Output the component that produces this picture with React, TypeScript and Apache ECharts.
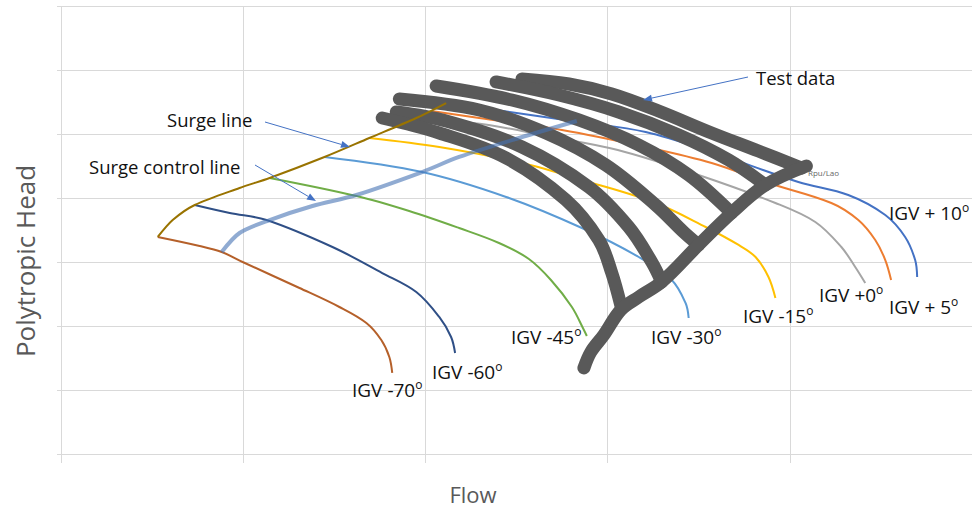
import React, { useEffect, useRef } from "react";
import * as echarts from "echarts";

// ---- data (Flow, Polytropic Head) in axis units ----
const xRange = [0, 5];
const yRange = [0, 7];

const surgeLine = [[0.531,3.391],[0.613,3.656],[0.734,3.891],[0.98,4.156],[1.145,4.313],[1.446,4.641],[1.692,4.938],[1.95,5.25],[2.114,5.484]];
const surgeControlLine = [[0.882,3.156],[0.98,3.453],[1.145,3.656],[1.38,3.875],[1.621,4.047],[1.982,4.406],[2.185,4.641],[2.514,4.938],[2.831,5.203]];

const igvM70 = [[0.531,3.391],[0.761,3.25],[0.882,3.156],[0.997,3.0],[1.309,2.594],[1.528,2.297],[1.676,2.047],[1.758,1.781],[1.802,1.516],[1.818,1.266]];
const igvM60 = [[0.734,3.891],[0.926,3.766],[1.128,3.656],[1.49,3.234],[1.763,2.828],[1.95,2.531],[2.076,2.141],[2.141,1.828],[2.163,1.578]];
const igvM45 = [[1.145,4.313],[1.621,4.031],[1.911,3.797],[2.185,3.531],[2.404,3.297],[2.568,3.047],[2.689,2.719],[2.804,2.297],[2.87,1.938],[2.886,1.844]];
const igvM30 = [[1.446,4.641],[1.982,4.406],[2.443,4.016],[2.859,3.531],[3.171,3.078],[3.352,2.719],[3.428,2.359],[3.445,2.125]];
const igvM15 = [[1.692,4.938],[2.076,4.797],[2.53,4.547],[2.897,4.25],[3.264,3.922],[3.538,3.547],[3.719,3.266],[3.812,3.078],[3.883,2.766],[3.921,2.438]];
const igv0 = [[1.911,5.203],[2.256,5.172],[2.694,4.953],[3.056,4.75],[3.499,4.359],[3.921,3.922],[4.14,3.625],[4.283,3.234],[4.359,2.922],[4.414,2.672]];
const igvP5 = [[2.032,5.359],[2.295,5.25],[2.749,5.063],[3.209,4.797],[3.571,4.547],[3.883,4.234],[4.228,3.922],[4.376,3.656],[4.469,3.344],[4.524,3.031],[4.556,2.719]];
const igvP10 = [[2.114,5.484],[2.388,5.375],[2.842,5.188],[3.209,5.031],[3.571,4.719],[4.047,4.25],[4.321,4.047],[4.524,3.734],[4.633,3.391],[4.688,3.031],[4.699,2.766]];

const testA = [[2.53,5.859],[2.788,5.781],[3.023,5.625],[3.28,5.359],[3.571,5.016],[3.828,4.734],[4.064,4.469]];
const testB = [[2.388,5.813],[2.733,5.609],[3.061,5.344],[3.39,4.984],[3.664,4.594],[3.866,4.203]];
const testC = [[2.059,5.75],[2.475,5.531],[2.842,5.219],[3.171,4.828],[3.445,4.359],[3.68,3.766]];
const testD = [[1.857,5.547],[2.295,5.375],[2.662,5.016],[2.99,4.516],[3.264,3.891],[3.417,3.469],[3.499,3.266]];
const testE = [[1.84,5.344],[2.114,5.203],[2.53,4.797],[2.897,4.172],[3.116,3.547],[3.242,3.0],[3.297,2.688]];
const testF = [[1.763,5.25],[2.076,5.016],[2.443,4.625],[2.771,3.969],[2.952,3.344],[3.023,2.828],[3.072,2.328]];
const testChoke = [[4.091,4.5],[3.866,4.203],[3.68,3.766],[3.499,3.266],[3.297,2.688],[3.171,2.453],[3.072,2.25],[2.979,1.859],[2.908,1.594],[2.87,1.344]];

const curveNames = ["IGV -70", "IGV -60", "IGV -45", "IGV -30", "IGV -15", "IGV +0", "IGV + 5", "IGV + 10"];
const curveData = [igvM70, igvM60, igvM45, igvM30, igvM15, igv0, igvP5, igvP10];
const curveColors = ["#b5602a", "#2f4f86", "#70ad47", "#5b9bd5", "#ffc000", "#a5a5a5", "#ed7d31", "#4472c4"];
const testBands = [testA, testB, testC, testD, testE, testF, testChoke];

const FONT = "'Open Sans', 'Noto Sans', sans-serif";

function igvLabel(name: string, x: number, y: number) {
  return {
    type: "text",
    x,
    y,
    z: 50,
    style: {
      text: `{m|${name}}{s|o}`,
      align: "left",
      verticalAlign: "middle",
      rich: {
        m: { fontSize: 19, fontFamily: FONT, fill: "#111", lineHeight: 24 },
        s: { fontSize: 12, fontFamily: FONT, fill: "#111", lineHeight: 24, verticalAlign: "top" },
      },
    },
  };
}

function plainText(text: string, x: number, y: number, size: number) {
  return {
    type: "text",
    x,
    y,
    z: 50,
    style: { text, fontSize: size, fontFamily: FONT, fill: "#111", align: "left", verticalAlign: "middle" },
  };
}

function arrow(x1: number, y1: number, x2: number, y2: number) {
  const dx = x2 - x1, dy = y2 - y1;
  const len = Math.sqrt(dx * dx + dy * dy);
  const ux = dx / len, uy = dy / len;
  const bx = x2 - ux * 9, by = y2 - uy * 9;
  const px = -uy * 3.5, py = ux * 3.5;
  return [
    { type: "line", z: 50, shape: { x1, y1, x2: bx, y2: by }, style: { stroke: "#4472c4", lineWidth: 1 } },
    { type: "polygon", z: 50, shape: { points: [[x2, y2], [bx + px, by + py], [bx - px, by - py]] }, style: { fill: "#4472c4" } },
  ];
}

export default function App() {
  const ref = useRef<HTMLDivElement>(null);
  useEffect(() => {
    document.body.style.margin = "0";
    if (!ref.current) return;
    const chart = echarts.init(ref.current, null, { renderer: "svg" });
    const series: any[] = [];
    curveData.forEach((d, i) => {
      series.push({
        name: curveNames[i], type: "line", data: d, showSymbol: false, smooth: 0.35, z: 2,
        lineStyle: { color: curveColors[i], width: 2 },
      });
    });
    testBands.forEach((d, i) => {
      series.push({
        name: "Test data " + i, type: "line", data: d, showSymbol: false, smooth: 0.35, z: 3,
        lineStyle: { color: "#595959", width: 13, cap: "round", join: "round" },
      });
    });
    series.push({
      name: "Surge line", type: "line", data: surgeLine, showSymbol: false, smooth: 0.3, z: 4,
      lineStyle: { color: "#997300", width: 2 },
    });
    series.push({
      name: "Surge control line", type: "line", data: surgeControlLine, showSymbol: false, smooth: 0.3, z: 5,
      lineStyle: { color: "rgba(70,115,180,0.6)", width: 4 },
    });

    chart.setOption({
      animation: false,
      grid: { left: 61, top: 6, width: 913, height: 448, containLabel: false },
      xAxis: {
        type: "value", min: xRange[0], max: xRange[1], interval: 1,
        axisLabel: { show: false },
        axisLine: { show: true, lineStyle: { color: "#d9d9d9" } },
        axisTick: { show: true, length: 9, lineStyle: { color: "#d9d9d9" } },
        splitLine: { show: true, lineStyle: { color: "#d9d9d9" } },
      },
      yAxis: {
        type: "value", min: yRange[0], max: yRange[1], interval: 1,
        axisLabel: { show: false },
        axisLine: { show: false },
        axisTick: { show: true, length: 4, lineStyle: { color: "#d9d9d9" } },
        splitLine: { show: true, lineStyle: { color: "#d9d9d9" } },
      },
      series,
      graphic: [
        igvLabel("IGV -70", 352, 390),
        igvLabel("IGV -60", 432, 372),
        igvLabel("IGV -45", 511, 337),
        igvLabel("IGV -30", 651, 337),
        igvLabel("IGV -15", 743, 316),
        igvLabel("IGV +0", 819, 295),
        igvLabel("IGV + 5", 889, 307),
        igvLabel("IGV + 10", 889, 213),
        plainText("Surge line", 167, 119, 18.5),
        plainText("Surge control line", 89, 166, 18.5),
        plainText("Test data", 756, 77, 18.5),
        { type: "text", x: 808, y: 172, z: 50, style: { text: "Rpu/Lao", fontSize: 8, fontFamily: FONT, fill: "#666", align: "left", verticalAlign: "middle" } },
        ...arrow(265, 122, 350, 147),
        ...arrow(255, 165, 316, 201),
        ...arrow(748, 77, 643, 100),
        { type: "text", x: 473, y: 494, z: 50, style: { text: "Flow", fontSize: 22, lineHeight: 24, fontFamily: FONT, fill: "#595959", align: "center", verticalAlign: "middle" } },
        { type: "text", x: 25, y: 261, rotation: Math.PI / 2, z: 50, style: { text: "Polytropic Head", fontSize: 26, fontFamily: FONT, fill: "#595959", align: "center", verticalAlign: "middle" } },
      ],
    });
    return () => chart.dispose();
  }, []);
  return <div ref={ref} style={{ width: 972, height: 508 }} />;
}
